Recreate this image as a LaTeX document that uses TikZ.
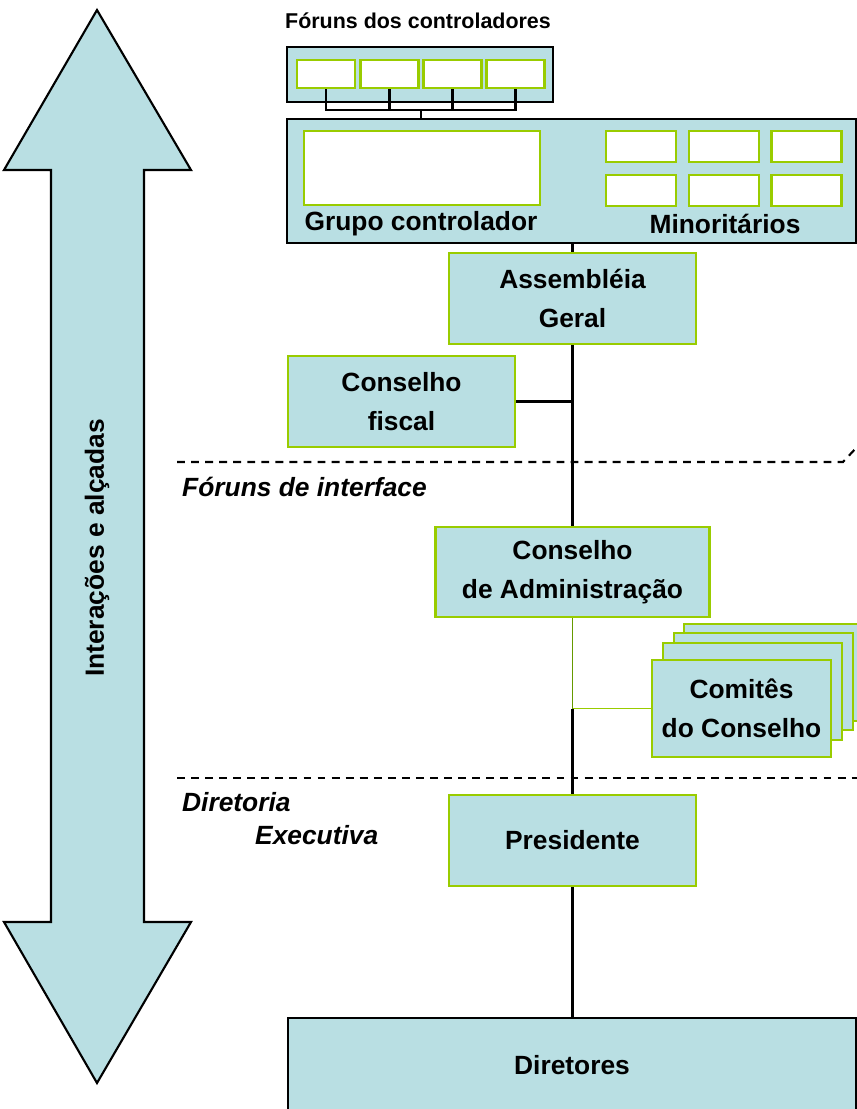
\documentclass[tikz,border=0pt]{standalone}
\usepackage{fontspec}
\setmainfont{Liberation Sans}
\definecolor{boxblue}{HTML}{B9DFE3}
\definecolor{boxgreen}{HTML}{99CC00}
\definecolor{linegreen}{HTML}{669900}
\tikzstyle{box}=[draw=boxgreen,line width=1.4pt,fill=boxblue,align=center,inner sep=0pt,font=\bfseries\fontsize{15}{22.5}\selectfont]
\tikzstyle{frame}=[draw=black,line width=1.2pt,fill=boxblue,inner sep=0pt]
\tikzstyle{slot}=[draw=boxgreen,line width=1.4pt,fill=white,inner sep=0pt]
\tikzstyle{label}=[font=\bfseries\fontsize{15}{18.5}\selectfont]
\tikzstyle{slanted}=[font=\bfseries\itshape\fontsize{15}{18.5}\selectfont,anchor=west]
\tikzstyle{edge}=[draw,line width=1.2pt,-]
\tikzstyle{divider}=[draw,line width=1.2pt,dash pattern=on 4.5pt off 3.5pt]

\begin{document}
\begin{tikzpicture}[x=0.02cm,y=-0.02cm]
    \useasboundingbox (0,0) rectangle (857,1109);
    \clip (0,0) rectangle (857,1109);

    % First the double arrow on the left
    \draw[frame] (97,10) -- (191,170) -- (144,170) -- (144,922) -- (191,922) -- (97,1083)
        -- (4,922) -- (51,922) -- (51,170) -- (4,170) -- cycle;
    \node[label,rotate=90] (axis) at (97,548) {Interações e alçadas};

    % Dividers
    \coordinate (d1a) at (177,462);
    \coordinate (d1b) at (843,462);
    \coordinate (d1c) at (857,447);
    \coordinate (d2a) at (177,778);
    \coordinate (d2b) at (857,778);
    \path[divider] (d1a) -- (d1b) -- (d1c);
    \path[divider] (d2a) -- (d2b);
    \node[slanted] (fint) at (176,487) {Fóruns de interface};
    \node[slanted] (dtop) at (176,802) {Diretoria};
    \node[slanted] (dbot) at (249,835) {Executiva};

    % Controllers forum
    \node[font=\bfseries\fontsize{12.2}{14}\selectfont] (ftitle) at (418,21) {Fóruns dos controladores};
    \node[frame,minimum width=5.32cm,minimum height=1.10cm] (forum) at (420,74.5) {};
    \foreach \x/\name in {326/f1, 389.5/f2, 452.5/f3, 515.5/f4}
        \node[slot,minimum width=1.16cm,minimum height=0.56cm] (\name) at (\x,74) {};

    % Shareholders
    \node[frame,minimum width=11.38cm,minimum height=2.48cm] (grupo) at (571.5,181) {};
    \node[slot,minimum width=4.72cm,minimum height=1.48cm] (ctrl) at (422,168) {};
    \foreach \x/\y/\name in {641/146.5/m1, 724/146.5/m2, 806.5/146.5/m3, 641/190.5/m4, 724/190.5/m5, 806.5/190.5/m6}
        \node[slot,minimum width=1.40cm,minimum height=0.62cm] (\name) at (\x,\y) {};
    \node[label] (gctrl) at (421,224) {Grupo controlador};
    \node[label] (gmin) at (725,224) {Minoritários};

    \coordinate (fbus) at (421,110);
    \foreach \name in {f1,f2,f3,f4}
        \path[edge] (\name.south) |- (fbus);
    \path[edge] (fbus) -- (fbus |- grupo.north);

    % Governance boxes
    \node[box,minimum width=4.94cm,minimum height=1.82cm] (asm) at (572.5,298.5) {Assembléia\\Geral};
    \node[box,minimum width=4.54cm,minimum height=1.82cm] (fiscal) at (401.5,401.5) {Conselho\\fiscal};
    \node[box,minimum width=5.48cm,minimum height=1.80cm] (cadm) at (572.5,572) {Conselho\\de Administração};
    \foreach \dx/\dy/\name in {32/-36/com3, 22/-27/com2, 11/-17/com1}
        \node[box,minimum width=3.58cm,minimum height=1.94cm] (\name) at (741.5+\dx,708.5+\dy) {};
    \node[box,minimum width=3.58cm,minimum height=1.94cm] (com) at (741.5,708.5) {Comitês\\do Conselho};
    \node[box,minimum width=4.94cm,minimum height=1.82cm] (pres) at (572.5,840.5) {Presidente};
    \node[frame,label,minimum width=11.36cm,minimum height=1.88cm] (dir) at (572,1065) {Diretores};

    % Connect the boxes
    \coordinate (jfis) at (fiscal.east -| asm.south);
    \coordinate (jcom) at (com.west -| cadm.south);
    \path[edge] (asm.north |- grupo.south) -- (asm.north);
    \path[edge] (asm.south) -- (cadm.north);
    \path[edge] (fiscal.east) -- (jfis);
    \draw[linegreen,line width=1.1pt] (cadm.south) -- (jcom);
    \draw[boxgreen,line width=0.8pt] (jcom) -- (com.west);
    \path[edge] (jcom) -- (pres.north);
    \path[edge] (pres.south) -- (dir.north -| pres.south);
\end{tikzpicture}
\end{document}
